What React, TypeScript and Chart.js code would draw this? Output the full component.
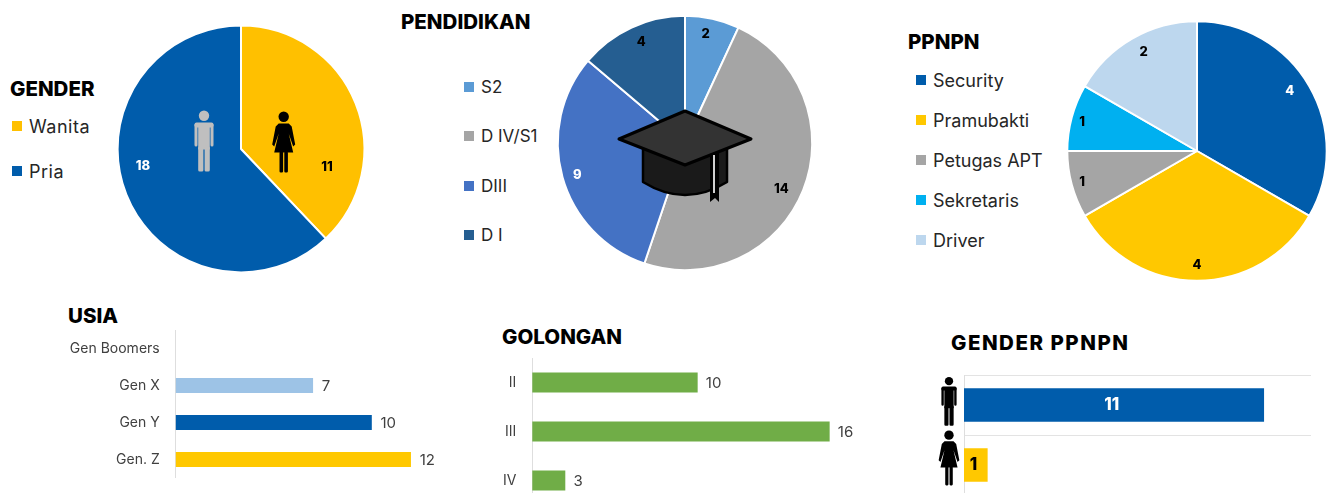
import React, { useEffect, useRef } from "react";
import { Chart, registerables } from "chart.js";

Chart.register(...registerables);

const FONT = "Inter, 'Open Sans', sans-serif";

// ---- data ----
const genderCategories = ["Wanita", "Pria"];
const genderValues = [11, 18];
const genderColors = ["#FFC000", "#005CAB"];

const pendidikanCategories = ["S2", "D IV/S1", "DIII", "D I"];
const pendidikanValues = [2, 14, 9, 4];
const pendidikanColors = ["#5B9BD5", "#A5A5A5", "#4472C4", "#255E91"];

const ppnpnCategories = ["Security", "Pramubakti", "Petugas APT", "Sekretaris", "Driver"];
const ppnpnValues = [4, 4, 1, 1, 2];
const ppnpnColors = ["#005CAB", "#FFC800", "#A5A5A5", "#00B0F0", "#BDD7EE"];

const usiaCategories = ["Gen Boomers", "Gen X", "Gen Y", "Gen. Z"];
const usiaValues = [null, 7, 10, 12];
const usiaColors = ["#9DC3E6", "#9DC3E6", "#005CAB", "#FFC800"];

const golonganCategories = ["II", "III", "IV"];
const golonganValues = [10, 16, 3];
// The printed values and the drawn bar lengths disagree in the picture,
// so the lengths as they were read off the picture are kept apart.
const golonganBarLengths = [8.89, 16, 1.76];

const genderPpnpnCategories = ["Pria", "Wanita"];
const genderPpnpnValues = [11, 1];
const genderPpnpnColors = ["#005CAB", "#FFC800"];

// ---- drawing helpers ----
type Pt = [number, number];

function poly(ctx: CanvasRenderingContext2D, pts: Pt[]) {
  ctx.beginPath();
  pts.forEach(([x, y], i) => (i ? ctx.lineTo(x, y) : ctx.moveTo(x, y)));
  ctx.closePath();
  ctx.fill();
}

function drawMan(ctx: CanvasRenderingContext2D, x: number, top: number, s: number, color: string) {
  ctx.save();
  ctx.translate(x, top);
  ctx.scale(s, s);
  ctx.fillStyle = color;
  ctx.beginPath();
  ctx.arc(0, 5.2, 5.2, 0, Math.PI * 2);
  ctx.fill();
  ctx.beginPath();
  ctx.roundRect(-9.5, 12, 19, 5, 2);
  ctx.fill();
  ctx.beginPath();
  ctx.roundRect(-9.5, 13, 3, 23, 1.5);
  ctx.roundRect(6.5, 13, 3, 23, 1.5);
  ctx.fill();
  ctx.fillRect(-5.8, 13, 11.6, 26);
  ctx.beginPath();
  ctx.roundRect(-5.8, 36, 5.2, 25, 1.5);
  ctx.roundRect(0.6, 36, 5.2, 25, 1.5);
  ctx.fill();
  ctx.restore();
}

function drawWoman(ctx: CanvasRenderingContext2D, x: number, top: number, s: number, color: string) {
  ctx.save();
  ctx.translate(x, top);
  ctx.scale(s, s);
  ctx.fillStyle = color;
  ctx.beginPath();
  ctx.arc(0, 5.2, 5.2, 0, Math.PI * 2);
  ctx.fill();
  poly(ctx, [[-5, 12], [5, 12], [8, 15], [11.5, 33], [9.5, 35], [5, 22], [9.5, 41], [-9.5, 41], [-5, 22], [-9.5, 35], [-11.5, 33], [-8, 15]]);
  ctx.beginPath();
  ctx.roundRect(-4.2, 40, 3.6, 21, 1.2);
  ctx.roundRect(0.6, 40, 3.6, 21, 1.2);
  ctx.fill();
  ctx.restore();
}

function drawCap(ctx: CanvasRenderingContext2D, cx: number, cy: number) {
  ctx.save();
  ctx.translate(cx, cy);
  ctx.lineJoin = "round";
  ctx.strokeStyle = "#000";
  ctx.lineWidth = 2.5;
  ctx.fillStyle = "#1A1A1A";
  ctx.beginPath();
  ctx.moveTo(-42, 6);
  ctx.lineTo(-42, 40);
  ctx.quadraticCurveTo(0, 66, 42, 40);
  ctx.lineTo(42, 6);
  ctx.closePath();
  ctx.fill();
  ctx.stroke();
  ctx.fillStyle = "#333333";
  ctx.lineWidth = 3;
  ctx.beginPath();
  ctx.moveTo(-66, -3);
  ctx.lineTo(0, -31);
  ctx.lineTo(66, -3);
  ctx.lineTo(0, 23);
  ctx.closePath();
  ctx.fill();
  ctx.stroke();
  ctx.fillStyle = "#000";
  poly(ctx, [[25, 12], [34, 9], [34, 60], [30, 56], [25, 60]]);
  ctx.fillStyle = "#D0D0D0";
  ctx.fillRect(28, 13, 2, 38);
  ctx.restore();
}

// Writes the value labels next to the library's own elements.
function valueLabels(cfg: {
  texts: (string | null)[];
  colors: string[];
  font: string;
  at: (el: any, i: number) => { x: number; y: number; align: CanvasTextAlign };
}) {
  return {
    id: "valueLabels",
    afterDraw(chart: any) {
      const ctx = chart.ctx;
      ctx.save();
      ctx.font = cfg.font;
      ctx.textBaseline = "middle";
      chart.getDatasetMeta(0).data.forEach((el: any, i: number) => {
        const t = cfg.texts[i];
        if (t == null) return;
        const p = cfg.at(el, i);
        ctx.textAlign = p.align;
        ctx.fillStyle = cfg.colors[i];
        ctx.fillText(t, p.x, p.y);
      });
      ctx.restore();
    },
  };
}

function pieConfig(
  categories: string[],
  values: number[],
  colors: string[],
  radius: number,
  labelOffsets: Pt[],
  labelColors: string[],
  icons: (ctx: CanvasRenderingContext2D, x: number, y: number) => void
) {
  return {
    type: "pie",
    data: {
      labels: categories,
      datasets: [{ data: values, backgroundColor: colors, borderColor: "#FFFFFF", borderWidth: 2, radius }],
    },
    options: {
      responsive: false,
      animation: false,
      layout: { padding: 0 },
      plugins: { legend: { display: false }, tooltip: { enabled: false } },
    },
    plugins: [
      {
        id: "icons",
        afterDatasetsDraw(chart: any) {
          const a = chart.getDatasetMeta(0).data[0];
          icons(chart.ctx, a.x, a.y);
        },
      },
      valueLabels({
        texts: values.map(String),
        colors: labelColors,
        font: `800 13px ${FONT}`,
        at: (el, i) => ({ x: el.x + labelOffsets[i][0], y: el.y + labelOffsets[i][1], align: "center" }),
      }),
    ],
  };
}

function barOptions(axisWidth: number, min: number, max: number, tickFont: number, grid: boolean) {
  return {
    indexAxis: "y",
    responsive: false,
    animation: false,
    layout: { padding: 0 },
    plugins: { legend: { display: false }, tooltip: { enabled: false } },
    scales: {
      x: { display: false, min, max },
      y: {
        afterFit: (s: any) => {
          s.width = axisWidth;
          s.paddingTop = 0;
          s.paddingBottom = 0;
        },
        border: { display: true, color: "#DEDEDE", width: 1 },
        grid: { display: grid, color: "#E3E3E3", drawTicks: false },
        ticks: {
          display: tickFont > 0,
          autoSkip: false,
          padding: 16,
          color: "#404040",
          font: { family: FONT, size: tickFont || 12 },
        },
      },
    },
  };
}

const usiaConfig = {
  type: "bar",
  data: {
    labels: usiaCategories,
    datasets: [{ data: usiaValues, backgroundColor: usiaColors, barThickness: 14.5 }],
  },
  options: barOptions(135.7, 0, 13.5, 14, false),
  plugins: [
    valueLabels({
      texts: usiaValues.map((v) => (v == null ? null : String(v))),
      colors: usiaColors.map(() => "#404040"),
      font: `400 15px ${FONT}`,
      at: (el) => ({ x: el.x + 9, y: el.y + 0.5, align: "left" }),
    }),
  ],
};

const golonganConfig = {
  type: "bar",
  data: {
    labels: golonganCategories,
    datasets: [{ data: golonganBarLengths, backgroundColor: "#70AD47", barThickness: 19.5 }],
  },
  options: barOptions(52.3, 0, 18.73, 14, false),
  plugins: [
    valueLabels({
      texts: golonganValues.map(String),
      colors: golonganValues.map(() => "#404040"),
      font: `400 15px ${FONT}`,
      at: (el) => ({ x: el.x + 8.5, y: el.y + 1, align: "left" }),
    }),
  ],
};

const genderPpnpnConfig = {
  type: "bar",
  data: {
    labels: genderPpnpnCategories,
    datasets: [{ data: genderPpnpnValues, backgroundColor: genderPpnpnColors, barThickness: 33 }],
  },
  options: barOptions(34, 0.157, 12.71, 0, true),
  plugins: [
    {
      id: "axisIcons",
      afterDraw(chart: any) {
        const sc = chart.scales.y;
        drawMan(chart.ctx, 19, sc.getPixelForTick(0) - 28, 0.8, "#000");
        drawWoman(chart.ctx, 19, sc.getPixelForTick(1) - 34.5, 0.9, "#000");
      },
    },
    valueLabels({
      texts: genderPpnpnValues.map(String),
      colors: ["#FFFFFF", "#000000"],
      font: `800 17px ${FONT}`,
      at: (el) => ({ x: (el.x + el.base) / 2, y: el.y, align: "center" }),
    }),
  ],
};

const pies = {
  gender: pieConfig(genderCategories, genderValues, genderColors, 123.4,
    [[86, 18], [-98, 17]], ["#000000", "#FFFFFF"],
    (ctx, x, y) => {
      drawMan(ctx, x - 37, y - 38.5, 1, "#BFBFBF");
      drawWoman(ctx, x + 42.7, y - 37.5, 1, "#000000");
    }),
  pendidikan: pieConfig(pendidikanCategories, pendidikanValues, pendidikanColors, 127.2,
    [[20.7, -109], [96.3, 46], [-107.7, 32], [-43.7, -101]], ["#000000", "#000000", "#FFFFFF", "#000000"],
    (ctx, x, y) => drawCap(ctx, x, y - 1)),
  ppnpn: pieConfig(ppnpnCategories, ppnpnValues, ppnpnColors, 129.7,
    [[92.7, -60], [0, 114], [-115, 31], [-115, -29], [-53.3, -99]],
    ["#FFFFFF", "#000000", "#000000", "#000000", "#000000"],
    () => {}),
};

function Plot({ config, left, top, width, height }: any) {
  const ref = useRef<HTMLCanvasElement>(null);
  useEffect(() => {
    const chart = new Chart(ref.current as HTMLCanvasElement, config);
    return () => chart.destroy();
  }, [config]);
  return <canvas ref={ref} width={width} height={height} style={{ position: "absolute", left, top, width, height }} />;
}

function Title({ text, x, y, size = 20.5, spacing = 0 }: any) {
  return (
    <div
      style={{
        position: "absolute",
        left: x,
        top: y,
        transform: "translateY(-50%)",
        font: `800 ${size}px ${FONT}`,
        letterSpacing: spacing,
        color: "#000",
        whiteSpace: "nowrap",
      }}
    >
      {text}
    </div>
  );
}

function Legend({ names, colors, swatchX, textX, ys, size, spacing = 0 }: any) {
  return names.map((n: string, i: number) => (
    <React.Fragment key={n}>
      <div style={{ position: "absolute", left: swatchX, top: ys[i] - 5, width: 10, height: 10, background: colors[i] }} />
      <div
        style={{
          position: "absolute",
          left: textX,
          top: ys[i],
          transform: "translateY(-50%)",
          font: `400 ${size}px ${FONT}`,
          letterSpacing: spacing,
          color: "#262626",
          whiteSpace: "nowrap",
        }}
      >
        {n}
      </div>
    </React.Fragment>
  ));
}

export default function App() {
  return (
    <div style={{ position: "absolute", left: 0, top: 0, width: 1332, height: 493, overflow: "hidden", background: "#fff" }}>
      <Plot config={pies.gender} left={111} top={19} width={260} height={260} />
      <Plot config={pies.pendidikan} left={550} top={8} width={270} height={270} />
      <Plot config={pies.ppnpn} left={1062} top={16} width={270} height={270} />
      <Plot config={usiaConfig} left={40} top={330} width={400} height={148} />
      <Plot config={golonganConfig} left={480} top={358} width={400} height={147} />
      <Plot config={genderPpnpnConfig} left={930} top={375} width={381} height={120} />

      <Title text="GENDER" x={10} y={88} />
      <Title text="PENDIDIKAN" x={401} y={21} />
      <Title text="PPNPN" x={908} y={41} />
      <Title text="USIA" x={68} y={315} />
      <Title text="GOLONGAN" x={502} y={336} />
      <Title text="GENDER PPNPN" x={951} y={342} spacing={1.5} />

      <Legend names={genderCategories} colors={genderColors} swatchX={12} textX={29} ys={[126, 171]} size={18} spacing={0.5} />
      <Legend names={pendidikanCategories} colors={pendidikanColors} swatchX={464} textX={481} ys={[87, 136, 185.5, 235]} size={17} />
      <Legend names={ppnpnCategories} colors={ppnpnColors} swatchX={916} textX={933} ys={[80, 120, 159.5, 200, 239.5]} size={18} />
    </div>
  );
}
